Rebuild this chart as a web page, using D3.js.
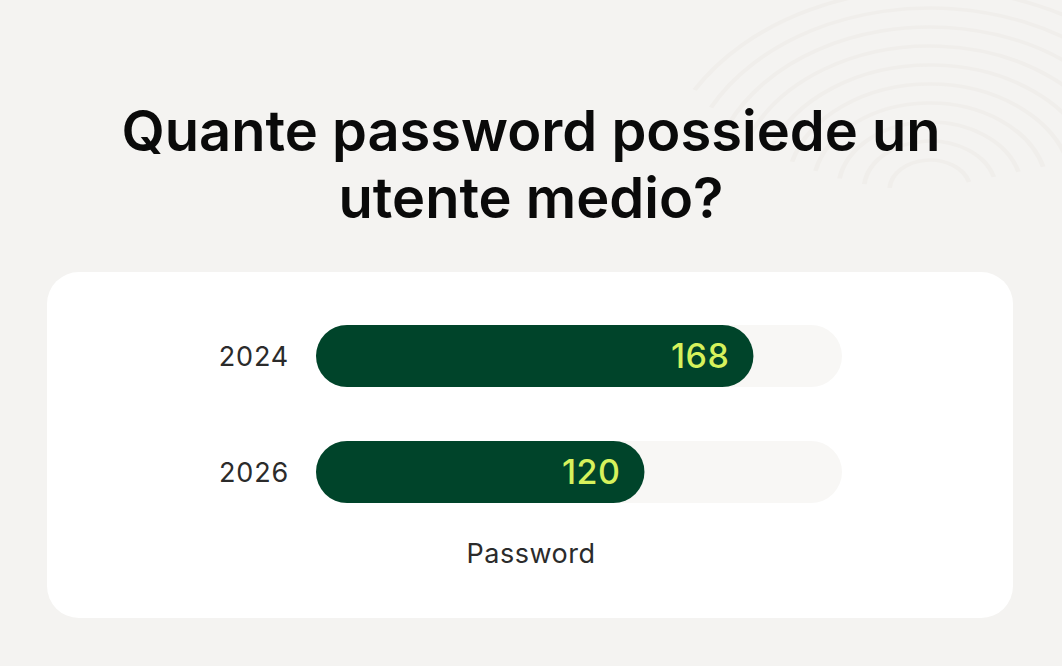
<!DOCTYPE html>
<html>
<head>
<meta charset="utf-8">
<script src="https://cdn.jsdelivr.net/npm/d3@7"></script>
<style>
  html, body { margin: 0; padding: 0; background: #f4f3f1; }
  svg { display: block; font-family: Inter, "Noto Sans", sans-serif; }
</style>
</head>
<body>
<div id="chart"></div>
<script>
// chart data
const years = ["2024", "2026"];
const passwords = [168, 120];
const titleLines = ["Quante password possiede un", "utente medio?"];
const axisLabel = "Password";

const width = 1062;
const height = 666;

const svg = d3.select("#chart")
    .append("svg")
    .attr("width", width)
    .attr("height", height);

svg.append("rect")
    .attr("width", width)
    .attr("height", height)
    .attr("fill", "#f4f3f1");

// faint fingerprint lines in the top right corner
const rings = d3.range(10);
svg.append("g")
    .attr("fill", "none")
    .attr("stroke", "#f0eeeb")
    .attr("stroke-width", 3.5)
    .attr("stroke-linecap", "round")
    .selectAll("path")
    .data(rings)
    .enter()
    .append("path")
    .attr("d", function(d) {
        const r = 30 + d * 19;
        return d3.arc()({innerRadius: r, outerRadius: r, startAngle: -1.5 + d * 0.05, endAngle: 1.3});
    })
    .attr("transform", "translate(930,190) scale(1.35,1.0)");

// title
svg.append("g")
    .selectAll("text")
    .data(titleLines)
    .enter()
    .append("text")
    .attr("x", 531)
    .attr("y", function(d, i) { return 151 + i * 67; })
    .attr("text-anchor", "middle")
    .attr("font-size", 56)
    .attr("font-weight", 600)
    .attr("fill", "#0a0a0a")
    .text(function(d) { return d; });

// white card
svg.append("rect")
    .attr("x", 47)
    .attr("y", 272)
    .attr("width", 966)
    .attr("height", 346)
    .attr("rx", 32)
    .attr("fill", "#ffffff");

const left = 316;
const x = d3.scaleLinear()
    .domain([0, 207])
    .range([56, 526]);

const y = d3.scaleBand()
    .domain(years)
    .range([325, 503])
    .paddingInner(0.9 / 1.9 * 0.98)
    .paddingOuter(0);

const bh = y.bandwidth();

const rows = svg.append("g")
    .selectAll("g")
    .data(years)
    .enter()
    .append("g")
    .attr("transform", function(d) { return "translate(0," + y(d) + ")"; });

// background track
rows.append("rect")
    .attr("x", left)
    .attr("width", x.range()[1])
    .attr("height", bh)
    .attr("rx", bh / 2)
    .attr("fill", "#f8f7f5");

// value bar
rows.append("rect")
    .attr("x", left)
    .attr("width", function(d, i) { return x(passwords[i]); })
    .attr("height", bh)
    .attr("rx", bh / 2)
    .attr("fill", "#00442a");

// value label
rows.append("text")
    .attr("x", function(d, i) { return left + x(passwords[i]) - 24; })
    .attr("y", bh / 2)
    .attr("dy", "0.36em")
    .attr("text-anchor", "end")
    .attr("font-size", 34)
    .attr("font-weight", 500)
    .attr("letter-spacing", 0.5)
    .attr("fill", "#d6f25c")
    .text(function(d, i) { return passwords[i]; });

// year label
rows.append("text")
    .attr("x", 289)
    .attr("y", bh / 2)
    .attr("dy", "0.36em")
    .attr("text-anchor", "end")
    .attr("font-size", 27)
    .attr("letter-spacing", 0.8)
    .attr("fill", "#2b2b2b")
    .text(function(d) { return d; });

// axis label
svg.append("text")
    .attr("x", 531)
    .attr("y", 563)
    .attr("text-anchor", "middle")
    .attr("font-size", 27)
    .attr("letter-spacing", 0.5)
    .attr("fill", "#2b2b2b")
    .text(axisLabel);
</script>
</body>
</html>
